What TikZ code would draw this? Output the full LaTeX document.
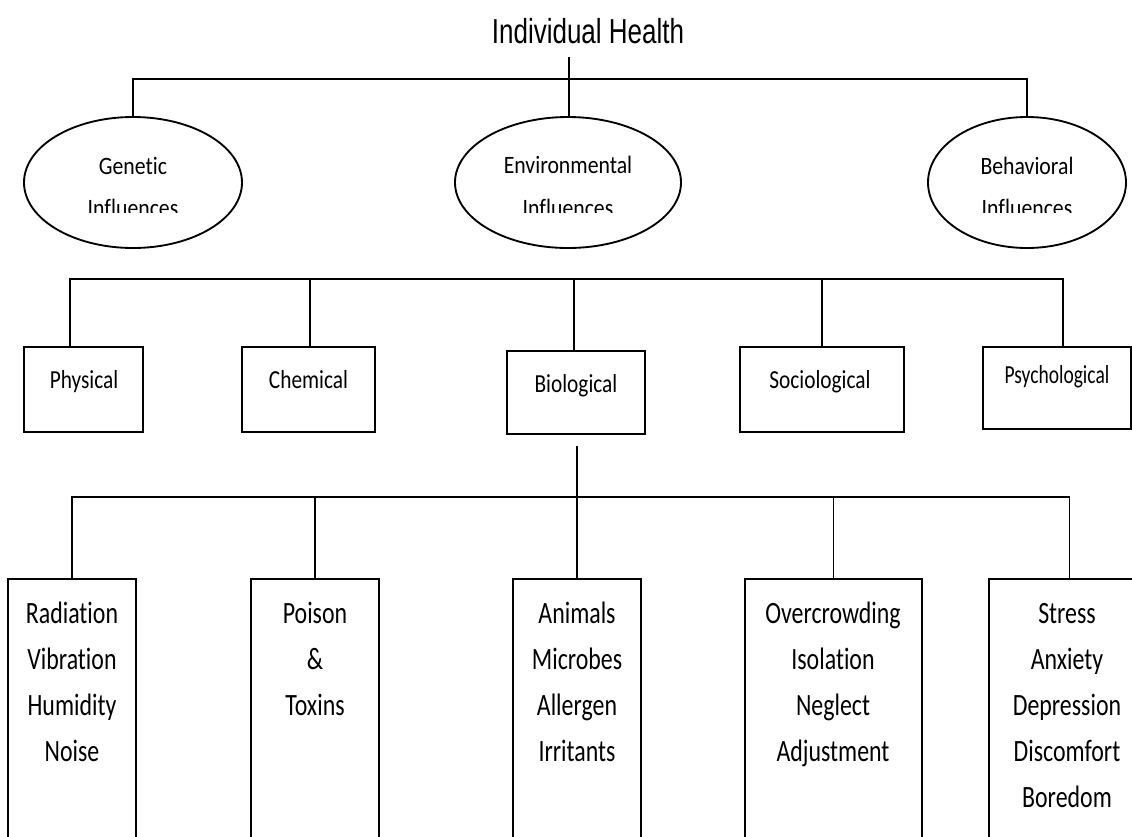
\documentclass[tikz,border=0pt]{standalone}
\usepackage{fontspec}
\usetikzlibrary{shapes.geometric,calc}
\newfontfamily\ttlfont[FakeStretch=0.75]{Liberation Sans}
\newfontfamily\elfont[FakeStretch=0.87,Ligatures=NoCommon]{Carlito}
\newfontfamily\bxfont[FakeStretch=0.82,Ligatures=NoCommon]{Carlito}
\newfontfamily\psyfont[FakeStretch=0.75,Ligatures=NoCommon]{Carlito}
\newfontfamily\tlfont[FakeStretch=0.77,Ligatures=NoCommon]{Carlito}
\newdimen\px \px=0.75pt
\begin{document}
\begin{tikzpicture}[x=0.75pt,y=-0.75pt,
  conn/.style={draw=black,line width=1.2pt},
  ell/.style={ellipse,draw=black,line width=1.4pt,inner sep=0pt},
  bx/.style={rectangle,draw=black,line width=1.5pt,inner sep=0pt},
  tall/.style={rectangle,draw=black,line width=1.5pt,inner sep=0pt,anchor=north,minimum height=330\px},
  txt/.style={anchor=base,inner sep=0pt},
  ttl/.style={txt,font=\ttlfont\fontsize{26}{30}\selectfont},
  eltxt/.style={txt,font=\elfont\fontsize{18.75}{22}\selectfont},
  bxtxt/.style={txt,font=\bxfont\fontsize{19.5}{23}\selectfont},
  psytxt/.style={txt,font=\psyfont\fontsize{19.5}{23}\selectfont},
  tltxt/.style={txt,font=\tlfont\fontsize{23.25}{34.5}\selectfont}]
\clip (0,0) rectangle (1132,836);
\fill[white] (0,0) rectangle (1132,836);

% title
\node[ttl] (title) at (588,43) {Individual Health};
\coordinate (tbot) at (569,57);

% ellipses
\node[ell,minimum width=218\px,minimum height=131\px] (gen) at (133,182.5) {};
\node[ell,minimum width=226\px,minimum height=131\px] (env) at (568,182.5) {};
\node[ell,minimum width=198\px,minimum height=131\px] (beh) at (1027,182.5) {};
\node[eltxt] (gent) at (133,174) {Genetic};
\node[eltxt] (envt) at (568,173) {Environmental};
\node[eltxt] (beht) at (1027,174) {Behavioral};
\begin{scope}
  \clip (0,150) rectangle (1132,212.5);
  \node[eltxt] (geni) at (133,216) {Influences};
  \node[eltxt] (envi) at (568,216) {Influences};
  \node[eltxt] (behi) at (1027,216) {Influences};
\end{scope}

\coordinate (b1) at (0,79);
\draw[conn] (tbot) -- (tbot |- env.north);
\draw[conn] (gen.north) -- (gen.north |- b1) -- (beh.north |- b1) -- (beh.north);

% second level
\node[bx,minimum width=119\px,minimum height=85\px] (phy) at (83.5,389.5) {};
\node[bx,minimum width=133\px,minimum height=85\px] (che) at (308.5,389.5) {};
\node[bx,minimum width=138\px,minimum height=83\px] (bio) at (576,392.5) {};
\node[bx,minimum width=164\px,minimum height=85\px] (soc) at (822,389.5) {};
\node[bx,minimum width=148\px,minimum height=82\px] (psy) at (1057,388) {};
\node[bxtxt] (phyt) at (84,388) {Physical};
\node[bxtxt] (chet) at (308.5,388) {Chemical};
\node[bxtxt] (biot) at (576,392) {Biological};
\node[bxtxt] (soct) at (820,388) {Sociological};
\node[psytxt] (psyt) at (1057,383) {Psychological};

\coordinate (b2) at (0,279);
\coordinate (phyc) at ($(phy.north)+(-13.5,0)$);
\coordinate (chec) at ($(che.north)+(1.5,0)$);
\coordinate (bioc) at ($(bio.north)+(-2,0)$);
\coordinate (socc) at (soc.north);
\coordinate (psyc) at ($(psy.north)+(6,0)$);
\draw[conn] (phyc) -- (phyc |- b2) -- (psyc |- b2) -- (psyc);
\foreach \n in {chec,bioc,socc} \draw[conn] (\n) -- (\n |- b2);

% third level
\node[tall,minimum width=128\px] (t1) at (72,578) {};
\node[tall,minimum width=128\px] (t2) at (315,578) {};
\node[tall,minimum width=128\px] (t3) at (577,578) {};
\node[tall,minimum width=177\px] (t4) at (833.5,578) {};
\node[tall,minimum width=161\px] (t5) at (1069.5,578) {};

\node[tltxt] (t1x) at (72,623) {\begin{tabular}[t]{@{}c@{}}Radiation\\Vibration\\Humidity\\Noise\end{tabular}};
\node[tltxt] (t2x) at (315,623) {\begin{tabular}[t]{@{}c@{}}Poison\\\&\\Toxins\end{tabular}};
\node[tltxt] (t3x) at (577,623) {\begin{tabular}[t]{@{}c@{}}Animals\\Microbes\\Allergen\\Irritants\end{tabular}};
\node[tltxt] (t4x) at (833,623) {\begin{tabular}[t]{@{}c@{}}Overcrowding\\Isolation\\Neglect\\Adjustment\end{tabular}};
\node[tltxt] (t5x) at (1067,623) {\begin{tabular}[t]{@{}c@{}}Stress\\Anxiety\\Depression\\Discomfort\\Boredom\end{tabular}};

\coordinate (biod) at ($(bio.south)+(1,11)$);
\coordinate (b3) at (0,497);
\draw[conn] (biod) -- (biod |- b3);
\draw[conn] (t1.north) -- (t1.north |- b3) -- (t5.north |- b3) -- (t5.north);
\foreach \n in {t2,t3,t4} \draw[conn] (\n.north) -- (\n.north |- b3);
\end{tikzpicture}
\end{document}
